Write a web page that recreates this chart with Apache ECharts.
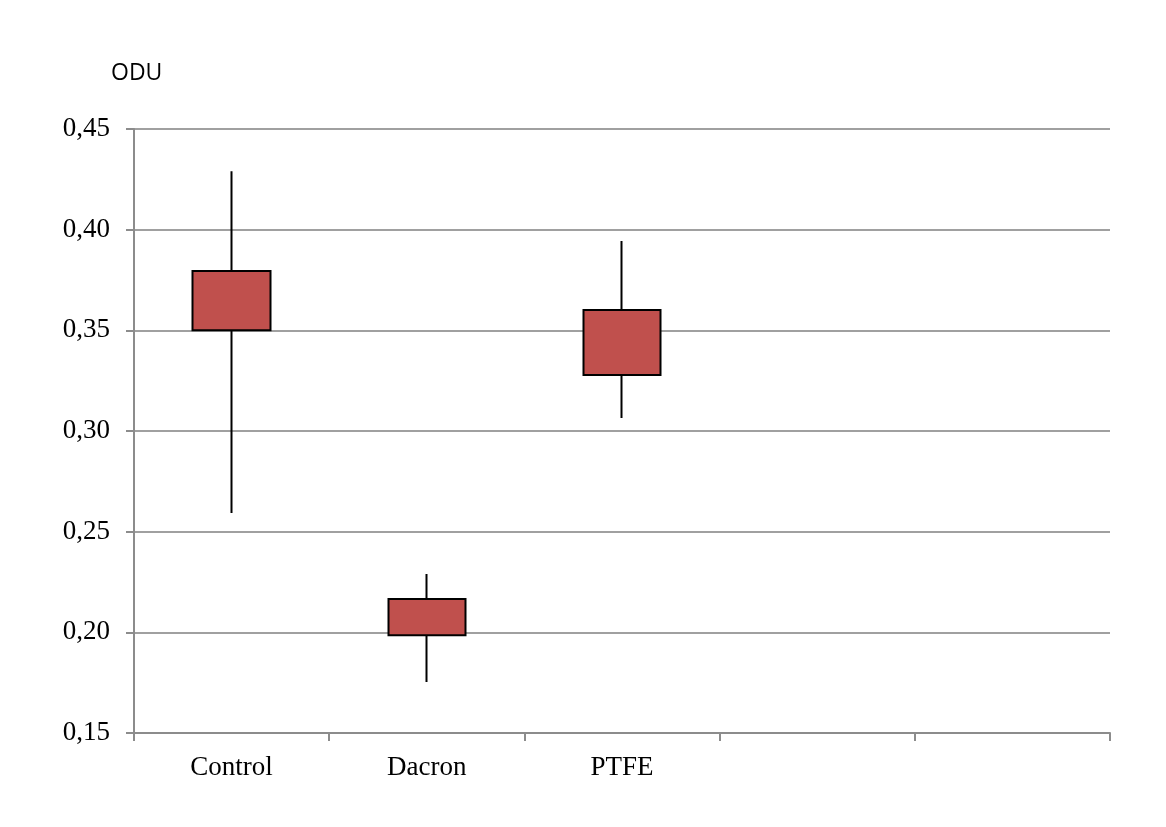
<!DOCTYPE html>
<html>
<head>
<meta charset="utf-8">
<script src="https://cdn.jsdelivr.net/npm/echarts@6/dist/echarts.min.js"></script>
<style>html,body{margin:0;padding:0;background:#fff}#c{width:1166px;height:827px}</style>
</head>
<body>
<div id="c"></div>
<script>
var categories = ['Control', 'Dacron', 'PTFE', '', ''];
// [open(box bottom), close(box top), lowest, highest]
var boxLow = [0.350, 0.1985, 0.3278];
var boxHigh = [0.3795, 0.2166, 0.3601];
var whiskerLow = [0.2593, 0.1753, 0.3065];
var whiskerHigh = [0.429, 0.229, 0.3944];
var yTicks = ['0,15','0,20','0,25','0,30','0,35','0,40','0,45'];

var data = boxLow.map(function (v, i) { return [v, boxHigh[i], whiskerLow[i], whiskerHigh[i]]; });

var chart = echarts.init(document.getElementById('c'), null, {renderer: 'canvas'});
chart.setOption({
  animation: false,
  backgroundColor: '#fff',
  grid: {left: 134, right: 56, top: 129, bottom: 94, containLabel: false},
  graphic: [{
    type: 'text', left: 111, top: 62,
    style: {text: 'ODU', font: '23px "Open Sans", "DejaVu Sans", sans-serif', fill: '#000'}
  }],
  xAxis: {
    type: 'category',
    data: categories,
    boundaryGap: true,
    axisLine: {lineStyle: {color: '#8c8c8c', width: 2}},
    axisTick: {show: true, length: 8, lineStyle: {color: '#8c8c8c', width: 2}, alignWithLabel: false},
    axisLabel: {color: '#000', fontFamily: 'Liberation Serif, Times New Roman, serif', fontSize: 27, margin: 21, interval: 0},
    splitLine: {show: false}
  },
  yAxis: {
    type: 'value',
    min: 0.15, max: 0.45, interval: 0.05,
    axisLine: {show: true, lineStyle: {color: '#8c8c8c', width: 2}},
    axisTick: {show: true, length: 8, lineStyle: {color: '#8c8c8c', width: 2}},
    axisLabel: {color: '#000', fontFamily: 'Liberation Serif, Times New Roman, serif', fontSize: 27, margin: 24,
      padding: [5, 0, 0, 0],
      formatter: function (v) { var i = Math.round((v - 0.15) / 0.05); return yTicks[i]; }},
    splitLine: {show: true, lineStyle: {color: '#a0a0a0', width: 2}}
  },
  series: [{
    type: 'candlestick',
    data: data,
    barWidth: 78,
    itemStyle: {color: '#C0504D', color0: '#C0504D', borderColor: '#000', borderColor0: '#000', borderWidth: 2}
  }]
});
</script>
</body>
</html>
